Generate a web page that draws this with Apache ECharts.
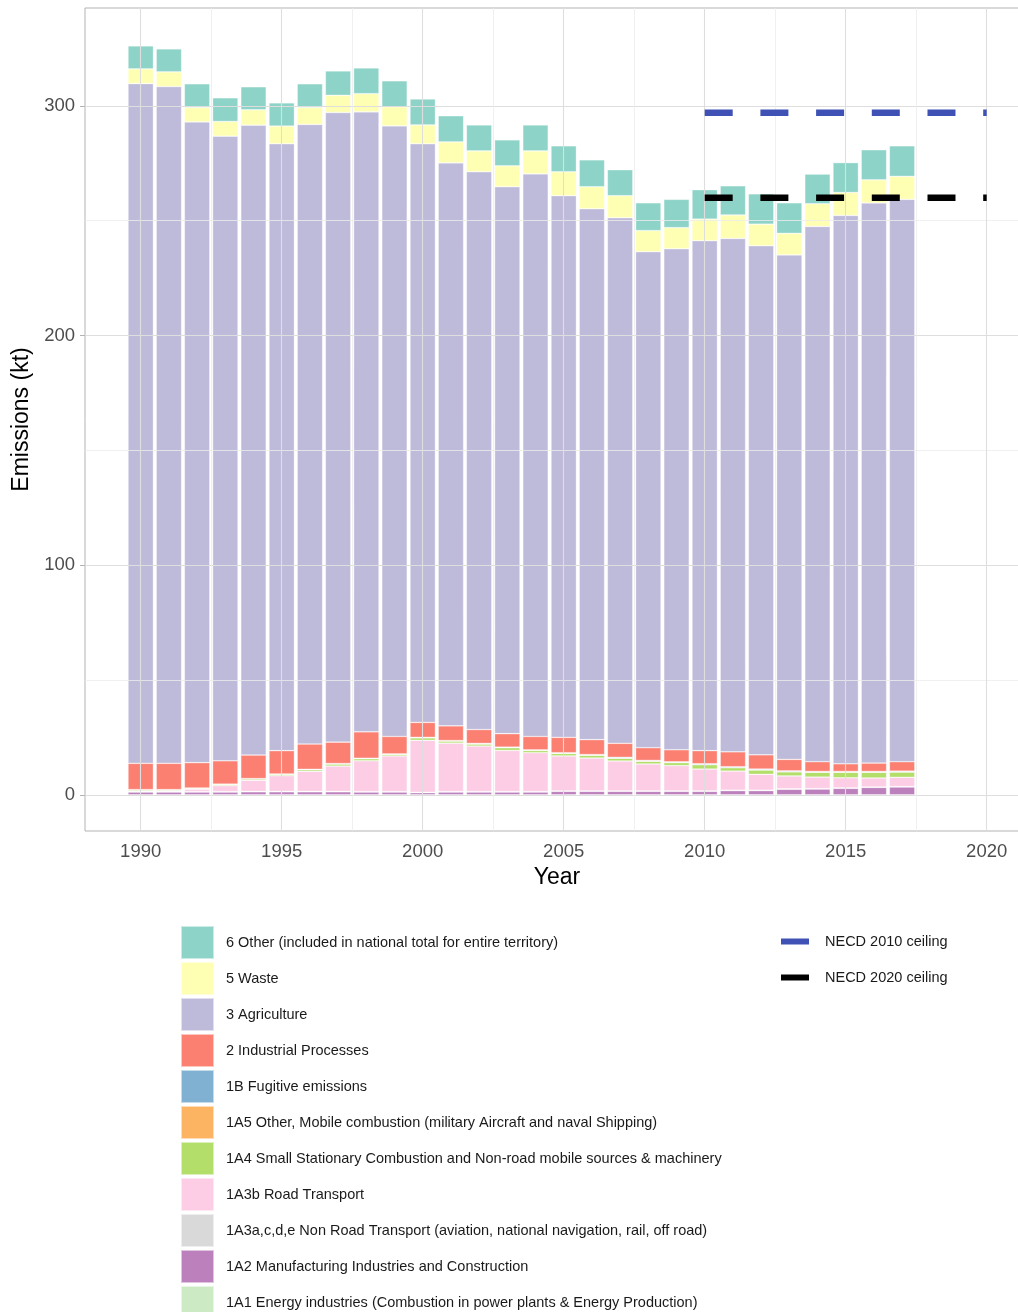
<!DOCTYPE html>
<html>
<head>
<meta charset="utf-8">
<script src="https://cdn.jsdelivr.net/npm/echarts@6/dist/echarts.min.js"></script>
<style>
html,body{margin:0;padding:0;background:#fff;}
#chart{width:1018px;height:1312px;}
</style>
</head>
<body>
<div id="chart"></div>
<script>
const years = [1990,1991,1992,1993,1994,1995,1996,1997,1998,1999,2000,2001,2002,2003,2004,2005,2006,2007,2008,2009,2010,2011,2012,2013,2014,2015,2016,2017];

const s1A1  = [0.1,0.1,0.1,0.1,0.1,0.1,0.1,0.1,0.1,0.1,0.1,0.1,0.1,0.1,0.1,0.1,0.1,0.1,0.1,0.1,0.1,0.1,0.1,0.1,0.1,0.1,0.1,0.1];
const s1A2  = [1.2,1.2,1.2,1.2,1.3,1.3,1.3,1.3,1.2,1.2,0.9,1.2,1.2,1.2,1.2,1.5,1.5,1.5,1.5,1.5,1.5,1.8,1.8,2.4,2.5,2.8,3.2,3.4];
const s1A3o = [0.2,0.2,0.2,0.2,0.2,0.2,0.2,0.2,0.2,0.2,0.2,0.2,0.2,0.2,0.2,0.2,0.2,0.2,0.2,0.2,0.2,0.2,0.2,0.2,0.2,0.2,0.2,0.2];
const s1A3b = [0.2,0.3,1.0,2.6,4.8,6.8,8.7,11.0,13.4,15.5,22.6,21.1,19.8,17.9,16.9,15.2,14.3,13.0,11.7,11.0,9.5,8.3,6.9,5.6,5.0,4.4,3.9,4.0];
const s1A4  = [0.5,0.4,0.4,0.5,0.6,0.6,0.7,0.9,0.9,0.7,1.1,0.9,0.9,1.2,1.0,1.1,1.2,1.2,1.2,1.3,1.9,1.5,1.9,1.8,2.1,2.4,2.5,2.3];
const s1A5  = [0.05,0.05,0.05,0.05,0.05,0.05,0.05,0.05,0.05,0.05,0.05,0.05,0.05,0.05,0.05,0.05,0.05,0.05,0.05,0.05,0.05,0.05,0.05,0.05,0.05,0.05,0.05,0.05];
const s1B   = [0.1,0.1,0.1,0.1,0.1,0.1,0.15,0.15,0.15,0.15,0.15,0.15,0.2,0.2,0.2,0.25,0.25,0.35,0.3,0.3,0.35,0.35,0.35,0.35,0.3,0.3,0.3,0.35];
const s2    = [11.45,11.45,11.05,10.15,10.25,10.15,11.0,9.3,11.5,7.6,6.5,6.4,6.05,5.85,5.85,6.7,6.5,6.1,5.55,5.25,5.7,6.5,6.2,5.0,4.25,3.35,3.65,4.1];
const s3    = [295.9,294.6,278.9,271.9,274.2,264.2,269.7,274.1,269.9,265.8,251.9,245.1,242.8,238.1,244.9,235.8,231.1,228.8,215.9,218.1,222.0,223.5,221.6,219.6,233.0,238.7,243.8,244.8];
const s5    = [6.4,6.4,6.3,6.4,6.7,7.7,7.4,7.5,7.9,8.3,8.2,9.1,9.1,9.1,10.0,10.4,9.6,9.6,9.2,9.2,9.4,10.2,9.4,9.4,9.9,10.0,10.1,10.0];
const s6    = [10.0,10.0,10.3,10.3,10.0,10.1,10.3,10.6,11.2,11.3,11.3,11.4,11.3,11.3,11.3,11.3,11.7,11.3,12.1,12.3,12.8,12.7,13.2,13.3,12.9,13.0,13.1,13.3];

const necdYears = [2010, 2020];
const necd2010 = [297, 297];
const necd2020 = [260, 260];

const xTicks = [1990,1995,2000,2005,2010,2015,2020];
const xMinor = [1992.5,1997.5,2002.5,2007.5,2012.5,2017.5];
const yTicks = [0,100,200,300];
const yMinor = [50,150,250];

const names = [
  '1A1 Energy industries (Combustion in power plants & Energy Production)',
  '1A2 Manufacturing Industries and Construction',
  '1A3a,c,d,e Non Road Transport (aviation, national navigation, rail, off road)',
  '1A3b Road Transport',
  '1A4 Small Stationary Combustion and Non-road mobile sources & machinery',
  '1A5 Other, Mobile combustion (military Aircraft and naval Shipping)',
  '1B Fugitive emissions',
  '2 Industrial Processes',
  '3 Agriculture',
  '5 Waste',
  '6 Other (included in national total for entire territory)'
];
const colors = ['#CCEBC5','#BC80BD','#D9D9D9','#FCCDE5','#B3DE69','#FDB462','#80B1D3','#FB8072','#BEBADA','#FFFFB3','#8DD3C7'];
const values = [s1A1,s1A2,s1A3o,s1A3b,s1A4,s1A5,s1B,s2,s3,s5,s6];

// value first, year second -> stacking acts on the value (y) dimension
const barSeries = names.map((n, k) => ({
  name: n,
  type: 'bar',
  stack: 'total',
  barWidth: 25.4,
  z: 2,
  encode: { x: 1, y: 0 },
  itemStyle: { color: colors[k], borderColor: 'rgba(255,255,255,0.55)', borderWidth: 0.6 },
  emphasis: { disabled: true },
  animation: false,
  data: years.map((y, i) => [values[k][i], y])
}));

const gridLines = [];
yTicks.forEach(v => gridLines.push({ yAxis: v, lineStyle: { color: '#DEDEDE', width: 1.1, type: 'solid' } }));
yMinor.forEach(v => gridLines.push({ yAxis: v, lineStyle: { color: '#ECECEC', width: 0.8, type: 'solid' } }));
xTicks.forEach(v => gridLines.push({ xAxis: v, lineStyle: { color: '#DEDEDE', width: 1.1, type: 'solid' } }));
xMinor.forEach(v => gridLines.push({ xAxis: v, lineStyle: { color: '#ECECEC', width: 0.8, type: 'solid' } }));

const font = 'Liberation Sans, Arial, sans-serif';

const option = {
  animation: false,
  backgroundColor: '#ffffff',
  textStyle: { fontFamily: font },
  grid: {
    left: 85, width: 944, top: 8, height: 823,
    outerBoundsMode: 'none', containLabel: false,
    show: true, borderColor: '#B3B3B3', borderWidth: 1, backgroundColor: 'transparent'
  },
  xAxis: {
    type: 'value',
    min: 1988.025, max: 2021.5,
    name: 'Year', nameLocation: 'middle', nameGap: 34,
    nameTextStyle: { fontSize: 23, color: '#000', fontFamily: font },
    axisLine: { show: false },
    axisTick: { show: true, length: 5, lineStyle: { color: '#B3B3B3' }, customValues: xTicks },
    axisLabel: { customValues: xTicks, fontSize: 18.5, color: '#4D4D4D', margin: 11, fontFamily: font,
                 formatter: v => String(v) },
    splitLine: { show: false }
  },
  yAxis: {
    type: 'value',
    min: -15.67, max: 342.6,
    name: 'Emissions (kt)', nameLocation: 'middle', nameGap: 52, nameRotate: 90,
    nameTextStyle: { fontSize: 23, color: '#000', fontFamily: font },
    axisLine: { show: false },
    axisTick: { show: true, length: 5, lineStyle: { color: '#B3B3B3' }, customValues: yTicks },
    axisLabel: { customValues: yTicks, fontSize: 18.5, color: '#4D4D4D', margin: 10, fontFamily: font,
                 formatter: v => String(v) },
    splitLine: { show: false }
  },
  legend: [
    {
      orient: 'vertical', left: 180, top: 925, height: 420, padding: 0,
      itemWidth: 33, itemHeight: 33, itemGap: 1,
      icon: 'rect',
      selectedMode: false,
      textStyle: { fontSize: 14.5, color: '#1A1A1A', fontFamily: font, padding: [0,0,0,7] },
      data: names.slice().reverse()
    },
    {
      orient: 'vertical', left: 781, top: 934, padding: 0,
      itemWidth: 28, itemHeight: 6, itemGap: 21,
      icon: 'rect',
      selectedMode: false,
      textStyle: { fontSize: 14.5, color: '#1A1A1A', fontFamily: font, padding: [0,0,0,11] },
      data: ['NECD 2010 ceiling', 'NECD 2020 ceiling']
    }
  ],
  series: [
    {
      name: 'grid', type: 'line', data: [], z: 1, silent: true,
      markLine: { silent: true, symbol: ['none','none'], label: { show: false }, animation: false, data: gridLines }
    },
    ...barSeries,
    {
      name: 'NECD 2010 ceiling', type: 'line', z: 5, symbol: 'none', animation: false,
      color: '#3F51B5',
      lineStyle: { color: '#3F51B5', width: 6.5, type: [28, 27.7], cap: 'butt' },
      data: necdYears.map((y, i) => [y, necd2010[i]])
    },
    {
      name: 'NECD 2020 ceiling', type: 'line', z: 5, symbol: 'none', animation: false,
      color: '#000000',
      lineStyle: { color: '#000000', width: 6.5, type: [28, 27.7], cap: 'butt' },
      data: necdYears.map((y, i) => [y, necd2020[i]])
    }
  ]
};

const chart = echarts.init(document.getElementById('chart'), null, { renderer: 'canvas' });
chart.setOption(option);
</script>
</body>
</html>
